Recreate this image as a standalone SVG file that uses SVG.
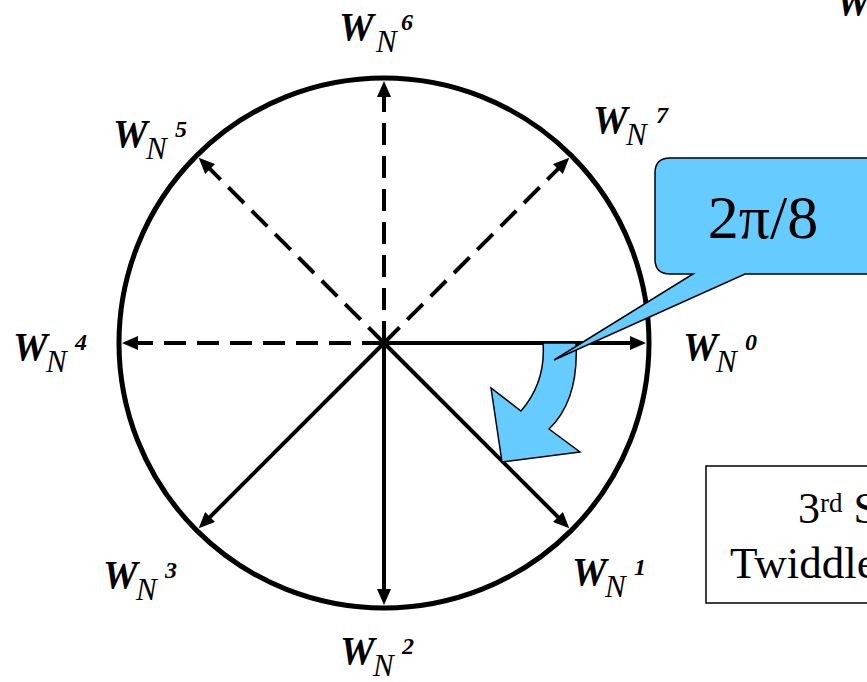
<svg xmlns="http://www.w3.org/2000/svg" width="867" height="682" viewBox="0 0 867 682">
<style>
  .lbl { font-style: italic; font-weight: bold; fill: #000; }
  .w { font-size: 39px; }
  .n { font-size: 31px; font-weight: normal; }
  .s { font-size: 24px; }
  .ray { stroke: #000; stroke-width: 4; fill: none; marker-end: url(#ah); }
  .dash { stroke-dasharray: 22 11; }
  .plain { fill: #000; }
</style>
<defs>
  <marker id="ah" viewBox="0 0 16 14" refX="8" refY="7" markerWidth="16" markerHeight="14" markerUnits="userSpaceOnUse" orient="auto">
    <path d="M0,0 L16,7 L0,14 z" fill="#000"/>
  </marker>
</defs>
<rect width="867" height="682" fill="#fff"/>

<g id="circle">
  <circle cx="384" cy="343" r="265" fill="none" stroke="#000" stroke-width="5"/>
</g>

<g id="connectors">
  <line class="ray" x1="384" y1="343" x2="638" y2="343"/>
  <line class="ray" x1="384" y1="343" x2="563.6" y2="522.6"/>
  <line class="ray" x1="384" y1="343" x2="384" y2="597"/>
  <line class="ray" x1="384" y1="343" x2="204.4" y2="522.6"/>
  <line class="ray dash" x1="384" y1="343" x2="130" y2="343"/>
  <line class="ray dash" x1="384" y1="343" x2="204.4" y2="163.4"/>
  <line class="ray dash" x1="384" y1="343" x2="384" y2="89"/>
  <line class="ray dash" x1="384" y1="343" x2="563.6" y2="163.4"/>
</g>

<g id="angle-arrow">
  <path d="M543,343 L576,343 Q579,400 549,429 L580,452 L502,462 L491,388 L521,411 Q546,382 543,343 Z" fill="#66CCFF" stroke="#000" stroke-width="1.5" stroke-linejoin="miter"/>
</g>

<g font-family="Liberation Serif, Times New Roman, serif">
<g id="callout">
  <path d="M670,158 L880,158 L880,274 L745,274 L554,360 L693,274 L670,274 Q655,274 655,259 L655,173 Q655,158 670,158 Z" fill="#66CCFF" stroke="#000" stroke-width="1.5"/>
  <text class="plain" x="763" y="238" font-size="62" text-anchor="middle">2π/8</text>
</g>

<g id="stage-box">
  <rect x="706" y="466" width="200" height="137" fill="#fff" stroke="#000" stroke-width="1.5"/>
  <text class="plain" font-size="44" x="798" y="523">3<tspan font-size="27" dy="-11">rd</tspan><tspan dy="11"> S</tspan></text>
  <text class="plain" font-size="45" x="730" y="578">Twiddle</text>
</g>

<g id="label-W0"><text class="lbl"><tspan class="w" x="683" y="360">W</tspan><tspan class="n" x="716" y="372">N</tspan><tspan class="s" x="745" y="350">0</tspan></text></g>
<g id="label-W1"><text class="lbl"><tspan class="w" x="572" y="585">W</tspan><tspan class="n" x="605" y="597">N</tspan><tspan class="s" x="634" y="575">1</tspan></text></g>
<g id="label-W2"><text class="lbl"><tspan class="w" x="340" y="664">W</tspan><tspan class="n" x="373" y="676">N</tspan><tspan class="s" x="402" y="654">2</tspan></text></g>
<g id="label-W3"><text class="lbl"><tspan class="w" x="103" y="588">W</tspan><tspan class="n" x="136" y="600">N</tspan><tspan class="s" x="165" y="578">3</tspan></text></g>
<g id="label-W4"><text class="lbl"><tspan class="w" x="13" y="360">W</tspan><tspan class="n" x="46" y="372">N</tspan><tspan class="s" x="75" y="350">4</tspan></text></g>
<g id="label-W5"><text class="lbl"><tspan class="w" x="113" y="147">W</tspan><tspan class="n" x="146" y="159">N</tspan><tspan class="s" x="175" y="137">5</tspan></text></g>
<g id="label-W6"><text class="lbl"><tspan class="w" x="339" y="40">W</tspan><tspan class="n" x="376" y="52">N</tspan><tspan class="s" x="401" y="30">6</tspan></text></g>
<g id="label-W7"><text class="lbl"><tspan class="w" x="593" y="133">W</tspan><tspan class="n" x="626" y="145">N</tspan><tspan class="s" x="656" y="123">7</tspan></text></g>
<g id="label-Wtop"><text class="lbl"><tspan class="w" x="836" y="15">W</tspan></text></g>
</g>
</svg>
